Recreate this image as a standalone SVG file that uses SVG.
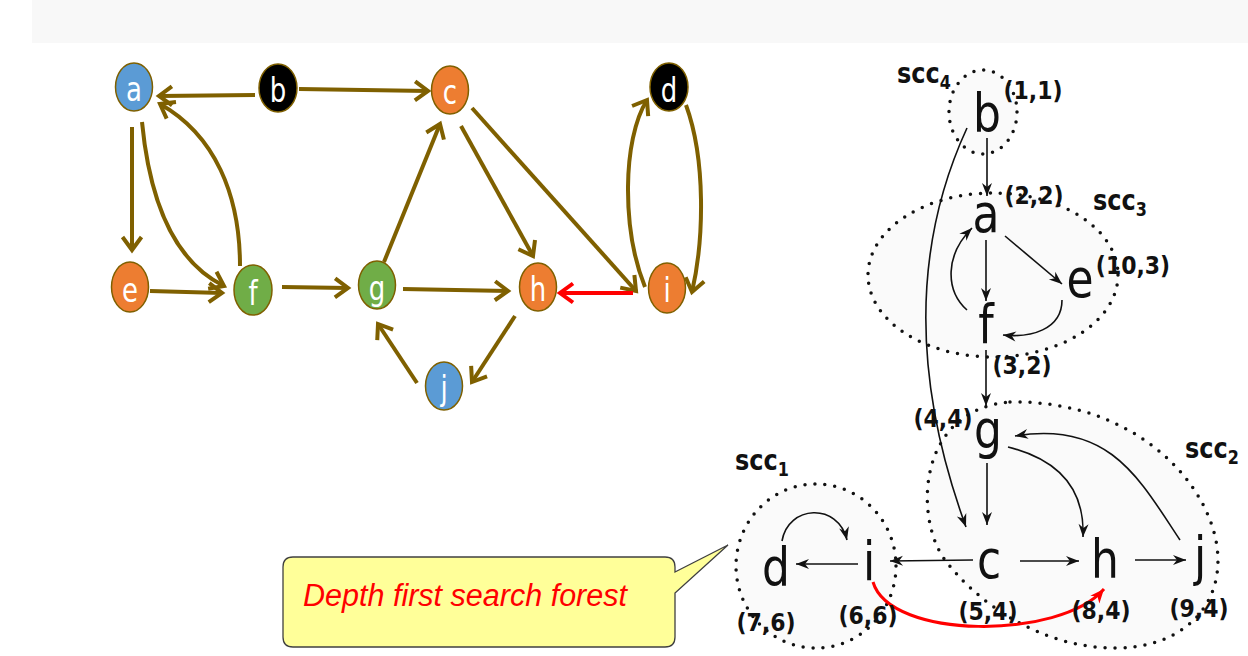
<svg xmlns="http://www.w3.org/2000/svg" width="1248" height="656" viewBox="0 0 1248 656">
  <defs>
    <style>
      .nd{stroke:#7f6000;stroke-width:1.5}
      .nl{font-family:"DejaVu Sans",sans-serif;font-size:26px;fill:#fff;text-anchor:middle}
      .e{fill:none;stroke:#7f6000;stroke-width:4;marker-end:url(#chev)}
      .er{fill:none;stroke:#ff0000;stroke-width:4;marker-end:url(#chevr)}
      .tl{font-family:"DejaVu Sans",sans-serif;font-size:44px;fill:#111;text-anchor:middle}
      .lb{font-family:"DejaVu Sans",sans-serif;font-weight:bold;font-size:22px;fill:#111;text-anchor:middle}
      .sc{font-family:"DejaVu Sans",sans-serif;font-weight:bold;font-size:24px;fill:#111}
      .sub{font-size:16px}
      .t{fill:none;stroke:#111;stroke-width:1.6;marker-end:url(#tip)}
      .tr{fill:none;stroke:#ff0000;stroke-width:3;marker-end:url(#tipr)}
      .scc{fill:#fafafa;stroke:#111;stroke-width:3.5;stroke-dasharray:0 10;stroke-linecap:round}
      .blue{fill:#5b9bd5}.orange{fill:#ed7d31}.green{fill:#70ad47}.black{fill:#000}
    </style>
    <marker id="chev" viewBox="-16 -12 20 24" refX="0" refY="0" markerWidth="20" markerHeight="24" markerUnits="userSpaceOnUse" orient="auto" style="overflow:visible">
      <path d="M-13,-9.5 L0,0 L-13,9.5" fill="none" stroke="#7f6000" stroke-width="4"/>
    </marker>
    <marker id="chevr" viewBox="-16 -12 20 24" refX="0" refY="0" markerWidth="20" markerHeight="24" markerUnits="userSpaceOnUse" orient="auto" style="overflow:visible">
      <path d="M-13,-9.5 L0,0 L-13,9.5" fill="none" stroke="#ff0000" stroke-width="4"/>
    </marker>
    <marker id="tip" viewBox="-14 -6 16 12" refX="0" refY="0" markerWidth="16" markerHeight="12" markerUnits="userSpaceOnUse" orient="auto" style="overflow:visible">
      <path d="M0,0 L-13,-5 L-9,0 L-13,5 Z" fill="#111"/>
    </marker>
    <marker id="tipr" viewBox="-14 -6 16 12" refX="0" refY="0" markerWidth="16" markerHeight="12" markerUnits="userSpaceOnUse" orient="auto" style="overflow:visible">
      <path d="M0,0 L-14,-6 L-10,0 L-14,6 Z" fill="#ff0000"/>
    </marker>
  </defs>

  <rect width="1248" height="656" fill="#fff"/>
  <!-- header band -->
  <rect x="32" y="0" width="1216" height="43" fill="#f8f8f8"/>

  <!-- ===== left: directed graph ===== -->
  <g id="graph-edges">
    <path class="e" d="M255,95 L159,96"/>
    <path class="e" d="M299,89 L428,91"/>
    <path class="e" d="M132,127 L132,250"/>
    <path class="e" d="M142,122 C150,205 175,262 224,286"/>
    <path class="e" d="M240,266 C240,195 215,135 160,104"/>
    <path class="e" d="M150,291 L222,293"/>
    <path class="e" d="M282,287 L348,288"/>
    <path class="e" d="M384,262 L440,124"/>
    <path class="e" d="M461,126 L533,256"/>
    <path class="e" d="M472,108 L636,291"/>
    <path class="e" d="M403,289 L508,291"/>
    <path class="e" d="M515,316 L472,382"/>
    <path class="e" d="M417,383 L378,324"/>
    <path class="e" d="M645,287 C622,230 622,140 647,100"/>
    <path class="e" d="M686,105 C706,160 704,240 692,292"/>
    <path class="er" d="M633,293 L560,293"/>
  </g>

  <g id="g-a"><ellipse class="nd blue" cx="134" cy="87" rx="18.5" ry="24"/><text class="nl" transform="matrix(1 0 0 1.33 134 101)">a</text></g>
  <g id="g-b"><ellipse class="nd black" cx="278" cy="88" rx="19" ry="24"/><text class="nl" transform="matrix(1 0 0 1.33 278 102)">b</text></g>
  <g id="g-c"><ellipse class="nd orange" cx="450" cy="90" rx="18.5" ry="24"/><text class="nl" transform="matrix(1 0 0 1.33 450 104)">c</text></g>
  <g id="g-d"><ellipse class="nd black" cx="669" cy="87" rx="19" ry="24"/><text class="nl" transform="matrix(1 0 0 1.33 669 102)">d</text></g>
  <g id="g-e"><ellipse class="nd orange" cx="130" cy="287" rx="18.5" ry="25"/><text class="nl" transform="matrix(1 0 0 1.33 130 302)">e</text></g>
  <g id="g-f"><ellipse class="nd green" cx="253" cy="290" rx="19" ry="25"/><text class="nl" transform="matrix(1 0 0 1.33 253 305)">f</text></g>
  <g id="g-g"><ellipse class="nd green" cx="377" cy="285" rx="18.5" ry="24"/><text class="nl" transform="matrix(1 0 0 1.33 377 300)">g</text></g>
  <g id="g-h"><ellipse class="nd orange" cx="538" cy="287" rx="18.5" ry="24"/><text class="nl" transform="matrix(1 0 0 1.33 538 301)">h</text></g>
  <g id="g-i"><ellipse class="nd orange" cx="667" cy="288" rx="18.5" ry="25"/><text class="nl" transform="matrix(1 0 0 1.33 667 302)">i</text></g>
  <g id="g-j"><ellipse class="nd blue" cx="444" cy="386" rx="18.5" ry="24"/><text class="nl" transform="matrix(1 0 0 1.33 444 400)">j</text></g>

  <!-- ===== right: depth first search forest ===== -->
  <g id="scc-regions">
    <ellipse class="scc" cx="983" cy="112" rx="34" ry="42"/>
    <ellipse class="scc" cx="993" cy="275" rx="125" ry="82"/>
    <path class="scc" d="M1010,402 C1110,400 1185,455 1210,520 C1235,585 1200,645 1120,648 C1040,650 975,600 945,560 C915,520 915,410 1010,402 Z"/>
    <ellipse class="scc" cx="816" cy="566" rx="80" ry="82"/>
  </g>

  <g id="forest-edges">
    <path class="t" d="M987,138 L987,196"/>
    <path class="t" d="M967,128 C920,230 905,360 966,527"/>
    <path class="t" d="M986,240 L986,301"/>
    <path class="t" d="M1005,236 L1062,284"/>
    <path class="t" d="M967,310 C945,290 945,255 972,228"/>
    <path class="t" d="M1062,300 C1062,330 1030,338 1003,335"/>
    <path class="t" d="M986,350 L986,406"/>
    <path class="t" d="M987,463 L987,525"/>
    <path class="t" d="M1008,447 C1060,460 1085,490 1083,537"/>
    <path class="t" d="M1180,540 C1140,480 1110,420 1015,436"/>
    <path class="t" d="M973,560 L890,561"/>
    <path class="t" d="M858,564 L796,564"/>
    <path class="t" d="M1020,561 L1079,561"/>
    <path class="t" d="M1135,560 L1186,560"/>
    <path class="t" d="M782,541 C788,505 838,502 847,540"/>
    <path class="tr" d="M873,582 C890,640 1060,640 1104,589"/>
  </g>

  <g id="scc-labels">
    <text class="sc" transform="matrix(1 0 0 1.2 897 83)">scc<tspan class="sub" dy="5">4</tspan></text>
    <text class="sc" transform="matrix(1 0 0 1.2 1093 210)">scc<tspan class="sub" dy="5">3</tspan></text>
    <text class="sc" transform="matrix(1 0 0 1.2 1185 458)">scc<tspan class="sub" dy="5">2</tspan></text>
    <text class="sc" transform="matrix(1 0 0 1.2 735 470)">scc<tspan class="sub" dy="5">1</tspan></text>
  </g>

  <g id="t-b"><text class="tl" transform="matrix(1 0 0 1.2 987 132)">b</text><text class="lb" transform="matrix(1 0 0 1.15 1033 99)">(1,1)</text></g>
  <g id="t-a"><text class="tl" transform="matrix(1 0 0 1.2 986 232)">a</text><text class="lb" transform="matrix(1 0 0 1.15 1034 204)">(2,2)</text></g>
  <g id="t-e"><text class="tl" transform="matrix(1 0 0 1.2 1080 297)">e</text><text class="lb" transform="matrix(1 0 0 1.15 1133 274)">(10,3)</text></g>
  <g id="t-f"><text class="tl" transform="matrix(1 0 0 1.2 986 343)">f</text><text class="lb" transform="matrix(1 0 0 1.15 1022 374)">(3,2)</text></g>
  <g id="t-g"><text class="tl" transform="matrix(1 0 0 1.2 988 448)">g</text><text class="lb" transform="matrix(1 0 0 1.15 943 427)">(4,4)</text></g>
  <g id="t-d"><text class="tl" transform="matrix(1 0 0 1.2 776 586)">d</text><text class="lb" transform="matrix(1 0 0 1.15 766 631)">(7,6)</text></g>
  <g id="t-i"><text class="tl" transform="matrix(1 0 0 1.2 869 580)">i</text><text class="lb" transform="matrix(1 0 0 1.15 868 624)">(6,6)</text></g>
  <g id="t-c"><text class="tl" transform="matrix(1 0 0 1.2 989 578)">c</text><text class="lb" transform="matrix(1 0 0 1.15 988 620)">(5,4)</text></g>
  <g id="t-h"><text class="tl" transform="matrix(1 0 0 1.2 1105 578)">h</text><text class="lb" transform="matrix(1 0 0 1.15 1101 619)">(8,4)</text></g>
  <g id="t-j"><text class="tl" transform="matrix(1 0 0 1.2 1200 575)">j</text><text class="lb" transform="matrix(1 0 0 1.15 1199 617)">(9,4)</text></g>

  <!-- callout -->
  <g id="callout">
    <path d="M293,557 H665 Q675,557 675,567 V572 L728,545 L675,593 V637 Q675,647 665,647 H293 Q283,647 283,637 V567 Q283,557 293,557 Z" fill="#ffff99" stroke="#404040" stroke-width="1.3"/>
    <text x="303" y="606" font-family="'Liberation Sans', sans-serif" font-style="italic" font-size="31" fill="#ff0000" textLength="324" lengthAdjust="spacingAndGlyphs">Depth first search forest</text>
  </g>
</svg>
